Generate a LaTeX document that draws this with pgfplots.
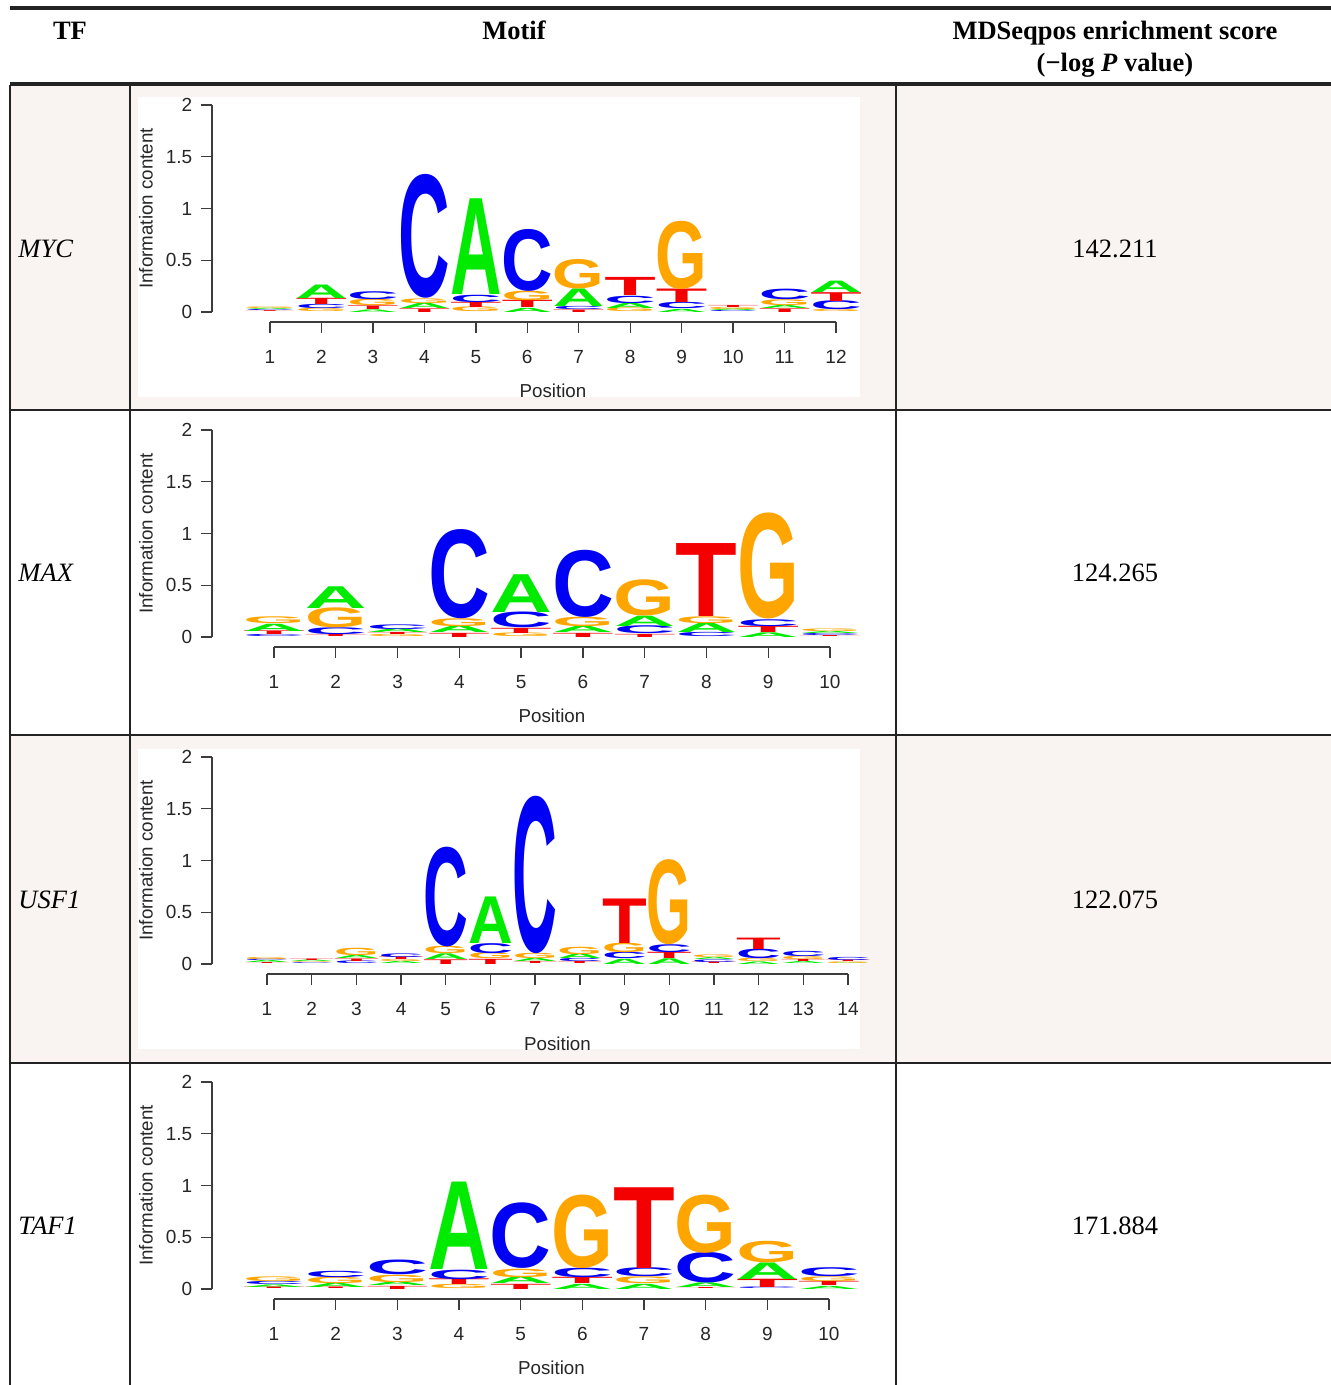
\documentclass[border=0pt]{standalone}
\usepackage{fontspec}
\setmainfont{Liberation Serif}
\newfontfamily\sansf{Liberation Sans}
\newfontfamily\logofont{Liberation Sans}
\usepackage{graphicx}
\usepackage{pgfplots}
\usepackage{pgfplotstable}
\pgfplotsset{compat=1.18}

\definecolor{rowshade}{RGB}{249,244,241}
\definecolor{rulecol}{RGB}{35,35,35}
\definecolor{axcol}{RGB}{60,60,60}
\definecolor{logoA}{RGB}{0,235,0}
\definecolor{logoC}{RGB}{0,0,245}
\definecolor{logoG}{RGB}{255,165,0}
\definecolor{logoT}{RGB}{245,0,0}

\newcommand\axfont{\sansf\fontsize{7.6}{9}\selectfont}
\newcommand\labfont{\sansf\fontsize{7.5}{9}\selectfont}
\newcommand\tabfont{\fontsize{10.6}{12.8}\selectfont}
\def\lw{20pt}
\newcommand\logoletter{\pgfmathsetlengthmacro\lhpt{\lheight*41.4pt}\edef\lname{\pgfplotspointmeta}\textcolor{logo\lname}{\resizebox{\lw}{\lhpt}{\logofont\bfseries\lname}}}

\pgfplotsset{
  logoaxis/.style={
    scale only axis, height=82.8pt,
    ymin=0, ymax=2, clip=false,
    anchor=south west,
    axis x line=bottom, axis y line=left,
    axis line style={-, line width=0.55pt, axcol},
    every outer x axis line/.append style={-},
    every outer y axis line/.append style={-},
    tick align=outside, major tick length=4.4pt,
    every tick/.style={axcol, line width=0.55pt},
    ytick={0,0.5,1,1.5,2},
    /pgf/number format/assume math mode=true,
    ticklabel style={font=\axfont, text=black!85},
    xticklabel style={yshift=-3.4pt},
    axis x line shift=4pt,
    xlabel={Position}, ylabel={Information content},
  },
  logoletters/.style={
    draw=none, mark=none,
    point meta=explicit symbolic,
    visualization depends on={\thisrow{h} \as \lheight},
    nodes near coords={\logoletter},
    every node near coord/.append style={anchor=south, inner sep=0pt, outer sep=0pt},
  },
  ylab/.style={every axis y label/.style={at={(rel axis cs:#1,0.5)}, rotate=90, anchor=center, font=\labfont, text=black!85}},
  xlab/.style={every axis x label/.style={at={(rel axis cs:0.5,#1)}, anchor=center, font=\labfont, text=black!85}},
}

% ---------------- MYC ----------------
\pgfplotstableread{
x b h l
1 0 0.008 T
1 0.008 0.010 C
1 0.018 0.012 A
1 0.030 0.015 G
2 0 0.030 G
2 0.030 0.040 C
2 0.070 0.060 T
2 0.130 0.130 A
3 0 0.025 A
3 0.025 0.035 T
3 0.060 0.060 G
3 0.120 0.075 C
4 0 0.035 T
4 0.035 0.050 A
4 0.085 0.045 G
4 0.130 1.180 C
5 0 0.045 G
5 0.045 0.050 T
5 0.095 0.070 C
5 0.165 0.925 A
6 0 0.040 A
6 0.040 0.070 T
6 0.110 0.090 G
6 0.200 0.590 C
7 0 0.025 T
7 0.025 0.030 C
7 0.055 0.170 A
7 0.225 0.280 G
8 0 0.035 G
8 0.035 0.050 A
8 0.085 0.070 C
8 0.155 0.175 T
9 0 0.030 A
9 0.030 0.060 C
9 0.090 0.130 T
9 0.220 0.650 G
10 0 0.010 C
10 0.010 0.015 A
10 0.025 0.020 G
10 0.045 0.020 T
11 0 0.035 T
11 0.035 0.030 A
11 0.065 0.055 G
11 0.120 0.100 C
12 0 0.020 G
12 0.020 0.085 C
12 0.105 0.085 T
12 0.190 0.110 A
}\myctab

% ---------------- MAX ----------------
\pgfplotstableread{
x b h l
1 0 0.020 C
1 0.020 0.035 T
1 0.055 0.070 A
1 0.125 0.065 G
2 0 0.020 T
2 0.020 0.065 C
2 0.085 0.190 G
2 0.275 0.210 A
3 0 0.020 G
3 0.020 0.020 T
3 0.040 0.035 A
3 0.075 0.045 C
4 0 0.040 T
4 0.040 0.065 A
4 0.105 0.075 G
4 0.180 0.850 C
5 0 0.035 G
5 0.035 0.050 T
5 0.085 0.150 C
5 0.235 0.365 A
6 0 0.040 T
6 0.040 0.060 A
6 0.100 0.090 G
6 0.190 0.640 C
7 0 0.030 T
7 0.030 0.075 C
7 0.105 0.100 A
7 0.205 0.345 G
8 0 0.040 C
8 0.040 0.090 A
8 0.130 0.065 G
8 0.195 0.705 T
9 0 0.045 A
9 0.045 0.060 T
9 0.105 0.065 C
9 0.170 1.010 G
10 0 0.010 T
10 0.010 0.020 C
10 0.030 0.020 A
10 0.050 0.025 G
}\maxtab

% ---------------- USF1 ----------------
\pgfplotstableread{
x b h l
1 0 0.010 T
1 0.010 0.020 A
1 0.030 0.015 C
1 0.045 0.020 G
2 0 0.008 C
2 0.008 0.008 G
2 0.016 0.015 A
2 0.031 0.015 T
3 0 0.025 C
3 0.025 0.025 T
3 0.050 0.030 A
3 0.080 0.070 G
4 0 0.020 A
4 0.020 0.020 G
4 0.040 0.025 T
4 0.065 0.035 C
5 0 0.045 T
5 0.045 0.055 A
5 0.100 0.070 G
5 0.170 0.950 C
6 0 0.050 T
6 0.050 0.055 G
6 0.105 0.095 C
6 0.200 0.450 A
7 0 0.020 T
7 0.020 0.030 A
7 0.050 0.050 G
7 0.100 1.500 C
8 0 0.020 T
8 0.020 0.030 C
8 0.050 0.045 A
8 0.095 0.070 G
9 0 0.050 A
9 0.050 0.060 C
9 0.110 0.090 G
9 0.200 0.430 T
10 0 0.055 A
10 0.055 0.060 T
10 0.115 0.075 C
10 0.190 0.810 G
11 0 0.015 T
11 0.015 0.025 C
11 0.040 0.020 A
11 0.060 0.025 G
12 0 0.025 A
12 0.025 0.030 G
12 0.055 0.090 C
12 0.145 0.110 T
13 0 0.020 A
13 0.020 0.020 T
13 0.040 0.030 G
13 0.070 0.050 C
14 0 0.005 A
14 0.005 0.015 G
14 0.020 0.015 T
14 0.035 0.030 C
}\usftab

% ---------------- TAF1 ----------------
\pgfplotstableread{
x b h l
1 0 0.015 T
1 0.015 0.025 A
1 0.040 0.030 C
1 0.070 0.045 G
2 0 0.015 T
2 0.015 0.040 A
2 0.055 0.060 G
2 0.115 0.060 C
3 0 0.030 T
3 0.030 0.035 A
3 0.065 0.070 G
3 0.135 0.140 C
4 0 0.040 G
4 0.040 0.055 T
4 0.095 0.090 C
4 0.185 0.845 A
5 0 0.050 T
5 0.050 0.065 A
5 0.115 0.080 G
5 0.195 0.625 C
6 0 0.050 A
6 0.050 0.060 T
6 0.110 0.090 C
6 0.200 0.700 G
7 0 0.050 A
7 0.050 0.065 G
7 0.115 0.085 C
7 0.200 0.780 T
8 0 0.010 T
8 0.010 0.045 A
8 0.055 0.290 C
8 0.345 0.555 G
9 0 0.015 C
9 0.015 0.080 T
9 0.095 0.160 A
9 0.255 0.205 G
10 0 0.030 A
10 0.030 0.040 T
10 0.070 0.045 G
10 0.115 0.085 C
}\taftab

\begin{document}
\begin{tikzpicture}
\useasboundingbox (0,0) rectangle (532.4pt,-554pt);
\begin{scope}[x=0.4pt,y=-0.4pt]
  % row shading
  \fill[rowshade] (10,85) rectangle (1331,410);
  \fill[rowshade] (10,735) rectangle (1331,1063);
  \fill[white] (138,97) rectangle (860,397);
  \fill[white] (138,749) rectangle (860,1049);
  % rules
  \draw[rulecol, line width=1.3pt] (10,8) -- (1331,8);
  \draw[rulecol, line width=1.3pt] (10,84) -- (1331,84);
  \draw[rulecol, line width=0.5pt] (10,410) -- (1331,410);
  \draw[rulecol, line width=0.5pt] (10,735) -- (1331,735);
  \draw[rulecol, line width=0.5pt] (10,1063) -- (1331,1063);
  \foreach \xx in {10,130,896} \draw[rulecol, line width=0.5pt] (\xx,85) -- (\xx,1385);
  % header
  \node[anchor=base, font=\tabfont\bfseries] at (70,39) {TF};
  \node[anchor=base, font=\tabfont\bfseries] at (514,39) {Motif};
  \node[anchor=base, font=\tabfont\bfseries] at (1115,39) {MDSeqpos enrichment score};
  \node[anchor=base, font=\tabfont\bfseries] at (1115,71) {(−log \textit{P} value)};
  % TF names
  \node[anchor=base west, font=\tabfont\itshape, inner sep=0pt] at (18,257) {MYC};
  \node[anchor=base west, font=\tabfont\itshape, inner sep=0pt] at (18,582) {MAX};
  \node[anchor=base west, font=\tabfont\itshape, inner sep=0pt] at (18,909) {USF1};
  \node[anchor=base west, font=\tabfont\itshape, inner sep=0pt] at (18,1235) {TAF1};
  % scores
  \node[anchor=base, font=\tabfont] at (1115,257) {142.211};
  \node[anchor=base, font=\tabfont] at (1115,582) {124.265};
  \node[anchor=base, font=\tabfont] at (1115,909) {122.075};
  \node[anchor=base, font=\tabfont] at (1115,1235) {171.884};
\end{scope}

% MYC logo
\def\lw{20.6pt}
\begin{axis}[logoaxis, at={(108pt,-124.8pt)}, width=226.4pt,
  xmin=1, xmax=12, xtick={1,...,12},
  axis y line shift=23.2pt, ylab=-0.2191, xlab=-0.3816]
\addplot[logoletters] table[x=x, y=b, meta=l] {\myctab};
\end{axis}

% MAX logo
\def\lw{24.7pt}
\begin{axis}[logoaxis, at={(109.6pt,-254.8pt)}, width=222.4pt,
  xmin=1, xmax=10, xtick={1,...,10},
  axis y line shift=24.8pt, ylab=-0.2302, xlab=-0.3816]
\addplot[logoletters] table[x=x, y=b, meta=l] {\maxtab};
\end{axis}

% USF1 logo
\def\lw{17.9pt}
\begin{axis}[logoaxis, at={(106.8pt,-385.6pt)}, width=232.4pt,
  xmin=1, xmax=14, xtick={1,...,14},
  axis y line shift=22pt, ylab=-0.2083, xlab=-0.386]
\addplot[logoletters] table[x=x, y=b, meta=l] {\usftab};
\end{axis}

% TAF1 logo
\def\lw{24.7pt}
\begin{axis}[logoaxis, at={(109.6pt,-515.6pt)}, width=222pt,
  xmin=1, xmax=10, xtick={1,...,10},
  axis y line shift=24.8pt, ylab=-0.2306, xlab=-0.3816]
\addplot[logoletters] table[x=x, y=b, meta=l] {\taftab};
\end{axis}
\end{tikzpicture}
\end{document}
